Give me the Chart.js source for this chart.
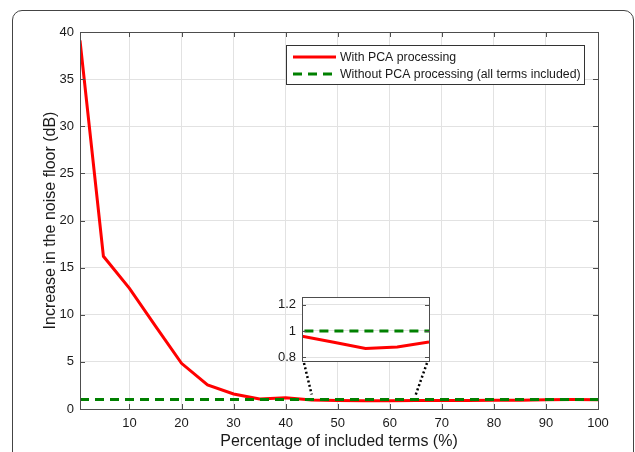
<!DOCTYPE html>
<html>
<head>
<meta charset="utf-8">
<script src="https://cdn.jsdelivr.net/npm/chart.js@4.4.0/dist/chart.umd.min.js"></script>
<style>
  body { margin: 0; background: #fff; }
  #wrap { position: relative; width: 635px; height: 452px; overflow: hidden; }
  #frame { position: absolute; left: 12px; top: 10px; width: 620px; height: 520px;
           border: 1px solid #444; border-radius: 10px; }
  #main { position: absolute; left: 0; top: 0; }
  #inset { position: absolute; left: 250px; top: 280px; }
</style>
</head>
<body>
<div id="wrap">
  <div id="frame"></div>
  <canvas id="main" width="635" height="452"></canvas>
  <canvas id="inset" width="190" height="110"></canvas>
</div>
<script>
// percentage of included terms
const termsPct = [0.5, 5, 10, 15, 20, 25, 30, 35, 40, 45, 50, 55, 60, 65, 70, 75, 80, 85, 90, 95, 100];
// increase in noise floor with PCA (dB)
const withPca = [39.1, 16.2, 12.8, 8.8, 4.85, 2.55, 1.59, 1.07, 1.2, 0.96, 0.913, 0.866, 0.877, 0.915, 0.9, 0.91, 0.93, 0.94, 0.97, 1.0, 0.97];
// without PCA, all terms included
const withoutPcaX = [0.5, 100];
const withoutPca = [1, 1];

const xTicks = [10, 20, 30, 40, 50, 60, 70, 80, 90, 100];
const yTicks = [0, 5, 10, 15, 20, 25, 30, 35, 40];
const insetTicks = [0.8, 1, 1.2];

const labels = ['With PCA processing', 'Without PCA processing (all terms included)'];

const FONT = 'Liberation Sans, Arial, Helvetica, sans-serif';
const TXT = '#1a1a1a';
const AXIS = '#4d4d4d';
const GRID = '#e2e2e2';
const RED = '#ff0000';
const GREEN = '#008000';

function pts(xs, ys) {
    return xs.map((x, i) => ({ x: x, y: ys[i] }));
}

function makeDatasets() {
    return [{
        label: labels[1],
        data: pts(withoutPcaX, withoutPca),
        borderColor: GREEN,
        borderWidth: 3,
        borderDash: [9, 6],
        pointRadius: 0,
        order: 0
    }, {
        label: labels[0],
        data: pts(termsPct, withPca),
        borderColor: RED,
        borderWidth: 3,
        pointRadius: 0,
        order: 1
    }];
}

// box around the axes with small inward ticks on all sides
const boxPlugin = {
    id: 'box',
    afterDatasetsDraw(chart, args, opts) {
        const { ctx, chartArea: a, scales } = chart;
        ctx.save();
        ctx.strokeStyle = AXIS;
        ctx.lineWidth = 1;
        ctx.beginPath();
        const tl = opts.tickLen || 5;
        if (opts.xTicks) {
            scales.x.ticks.forEach(t => {
                const px = Math.round(scales.x.getPixelForValue(t.value)) + 0.5;
                ctx.moveTo(px, a.bottom); ctx.lineTo(px, a.bottom - tl);
                ctx.moveTo(px, a.top); ctx.lineTo(px, a.top + tl);
            });
        }
        scales.y.ticks.forEach(t => {
            const py = Math.round(scales.y.getPixelForValue(t.value)) + 0.5;
            ctx.moveTo(a.left, py); ctx.lineTo(a.left + tl, py);
            ctx.moveTo(a.right, py); ctx.lineTo(a.right - tl, py);
        });
        ctx.stroke();
        ctx.strokeRect(Math.round(a.left) + 0.5, Math.round(a.top) + 0.5,
            Math.round(a.right - a.left), Math.round(a.bottom - a.top));
        ctx.restore();
    }
};

// white background only inside the inset axes
const insetBg = {
    id: 'insetBg',
    beforeDraw(c) {
        const a = c.chartArea;
        c.ctx.fillStyle = '#fff';
        c.ctx.fillRect(a.left, a.top, a.right - a.left, a.bottom - a.top);
    }
};

// legend box inside the plot (top right)
const legendPlugin = {
    id: 'boxLegend',
    afterDraw(chart) {
        const { ctx, chartArea: a } = chart;
        const right = a.right - 14, top = a.top + 13;
        const w = 298, h = 39;
        const left = right - w;
        ctx.save();
        ctx.fillStyle = '#fff';
        ctx.fillRect(left, top, w, h);
        ctx.strokeStyle = '#333';
        ctx.lineWidth = 1;
        ctx.strokeRect(left + 0.5, top + 0.5, w, h);
        ctx.font = '12.3px ' + FONT;
        ctx.textBaseline = 'middle';
        ctx.fillStyle = TXT;
        const rows = [
            { ds: chart.data.datasets[1], y: top + 12 },
            { ds: chart.data.datasets[0], y: top + 29 }
        ];
        rows.forEach(r => {
            ctx.beginPath();
            ctx.strokeStyle = r.ds.borderColor;
            ctx.lineWidth = 3;
            ctx.setLineDash(r.ds.borderDash || []);
            ctx.moveTo(left + 7, r.y);
            ctx.lineTo(left + 50, r.y);
            ctx.stroke();
            ctx.setLineDash([]);
            ctx.fillText(r.ds.label, left + 54, r.y + 1);
        });
        ctx.restore();
    }
};

let insetChart = null;

// dotted connectors from the zoom region up to the inset corners
const connectorPlugin = {
    id: 'connector',
    afterDatasetsDraw(chart) {
        if (!insetChart) return;
        const { ctx, scales } = chart;
        const ia = insetChart.chartArea;
        const ox = 250, oy = 280;
        const yBase = scales.y.getPixelForValue(1) - 5;
        const x0 = insetChart.scales.x.min, x1 = insetChart.scales.x.max;
        ctx.save();
        ctx.strokeStyle = '#000';
        ctx.lineWidth = 2.5;
        ctx.setLineDash([2, 2.5]);
        ctx.beginPath();
        ctx.moveTo(ox + ia.left + 2, oy + ia.bottom + 2);
        ctx.lineTo(scales.x.getPixelForValue(x0), yBase);
        ctx.moveTo(ox + ia.right - 2, oy + ia.bottom + 2);
        ctx.lineTo(scales.x.getPixelForValue(x1), yBase);
        ctx.stroke();
        ctx.restore();
    }
};

insetChart = new Chart(document.getElementById('inset').getContext('2d'), {
    type: 'line',
    data: { datasets: makeDatasets() },
    options: {
        responsive: false,
        animation: false,
        events: [],
        layout: { padding: { top: 17, right: 11, left: 0, bottom: 29 } },
        plugins: { legend: { display: false }, tooltip: { enabled: false }, box: { xTicks: false, tickLen: 4 } },
        scales: {
            x: { type: 'linear', min: 45, max: 65, display: false },
            y: {
                min: 0.77, max: 1.26,
                afterBuildTicks: s => { s.ticks = insetTicks.map(v => ({ value: v })); },
                afterFit: s => { s.width = 52; },
                grid: { color: GRID, drawTicks: false },
                border: { display: false },
                ticks: { font: { family: FONT, size: 13 }, color: TXT, padding: 6,
                         callback: v => String(v) }
            }
        }
    },
    plugins: [insetBg, boxPlugin]
});

new Chart(document.getElementById('main').getContext('2d'), {
    type: 'line',
    data: { datasets: makeDatasets() },
    options: {
        responsive: false,
        animation: false,
        events: [],
        layout: { padding: { top: 32, right: 37, left: 0, bottom: 0 } },
        plugins: { legend: { display: false }, tooltip: { enabled: false }, box: { xTicks: true, tickLen: 5 } },
        scales: {
            x: {
                type: 'linear', min: 0.5, max: 100,
                afterBuildTicks: s => { s.ticks = xTicks.map(v => ({ value: v })); },
                afterFit: s => { s.height = 43; },
                grid: { color: GRID, drawTicks: false },
                border: { display: false },
                ticks: { font: { family: FONT, size: 13 }, color: TXT, padding: 7, maxRotation: 0 },
                title: { display: true, text: 'Percentage of included terms (%)',
                         font: { family: FONT, size: 16 }, color: TXT, padding: { top: 0, bottom: 1 } }
            },
            y: {
                min: 0, max: 40,
                afterBuildTicks: s => { s.ticks = yTicks.map(v => ({ value: v })); },
                afterFit: s => { s.width = 80; },
                grid: { color: GRID, drawTicks: false },
                border: { display: false },
                ticks: { font: { family: FONT, size: 13 }, color: TXT, padding: 6 },
                title: { display: true, text: 'Increase in the noise floor (dB)',
                         font: { family: FONT, size: 16 }, color: TXT, padding: { top: 41, bottom: 0 } }
            }
        }
    },
    plugins: [boxPlugin, connectorPlugin, legendPlugin]
});
</script>
</body>
</html>
